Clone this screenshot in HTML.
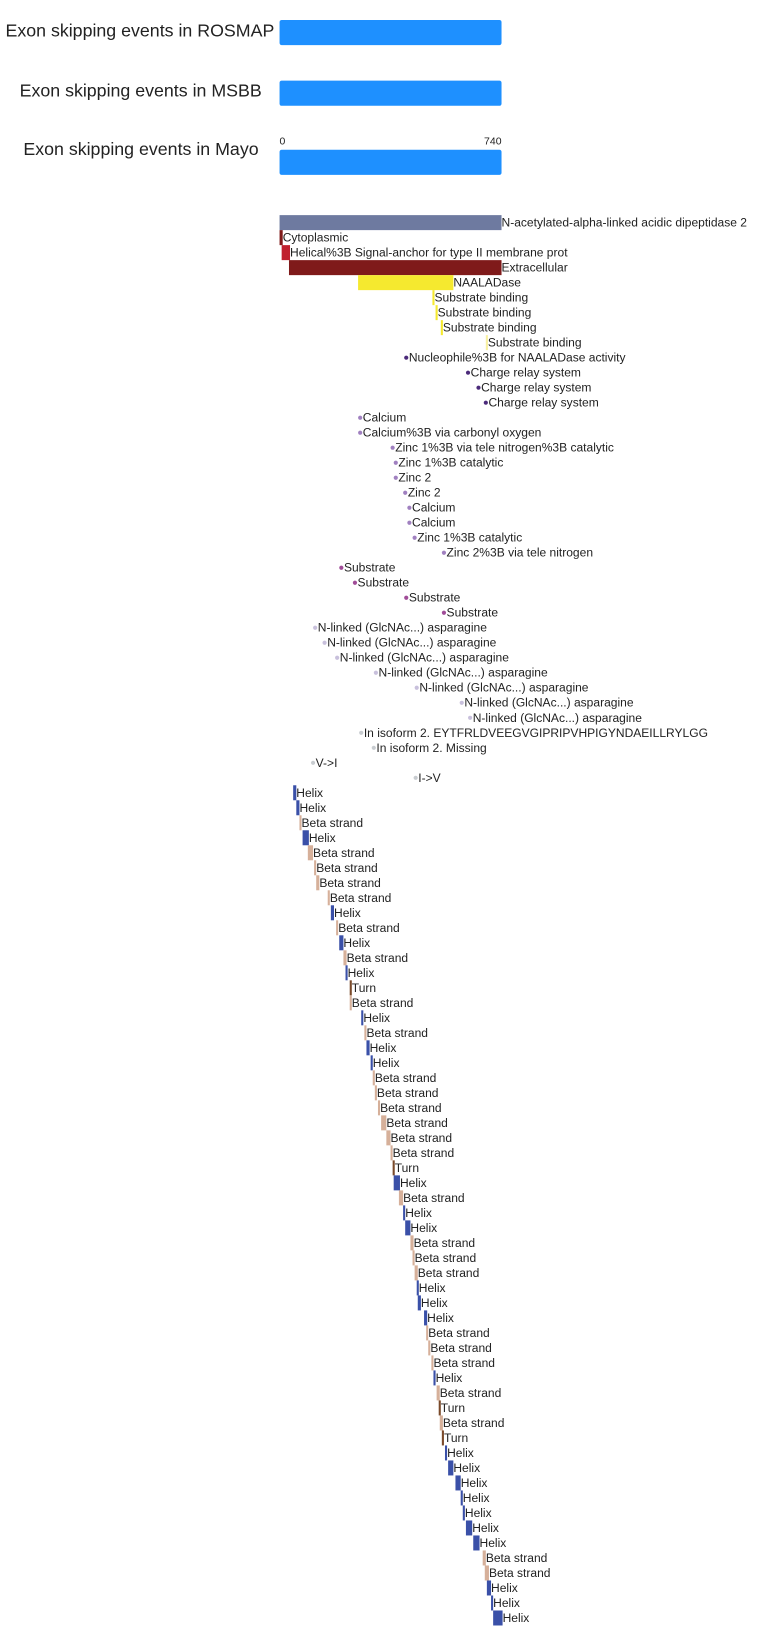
<!DOCTYPE html>
<html><head><meta charset="utf-8"><style>
html,body{margin:0;padding:0;background:#fff;}
svg{display:block;}
text{font-family:"Liberation Sans",Arial,sans-serif;fill:#222;}
</style></head><body>
<svg width="757" height="1645" viewBox="0 0 723 1571" xmlns="http://www.w3.org/2000/svg">
<text x="262" y="35" font-size="17" text-anchor="end">Exon skipping events in ROSMAP</text>
<text x="250" y="92" font-size="17" text-anchor="end">Exon skipping events in MSBB</text>
<text x="247" y="148" font-size="17" text-anchor="end">Exon skipping events in Mayo</text>
<rect x="267" y="19" width="212" height="24" rx="2" fill="#1e90ff"/>
<rect x="267" y="77" width="212" height="24" rx="2" fill="#1e90ff"/>
<rect x="267" y="143" width="212" height="24" rx="2" fill="#1e90ff"/>
<text x="267" y="138" font-size="10">0</text>
<text x="479" y="138" font-size="10" text-anchor="end">740</text>
<g id="rows" font-size="11.5"></g>
</svg>
<script>
var R=[
["b",267,479,"#6e7aa0","N-acetylated-alpha-linked acidic dipeptidase 2"],
["b",267,270,"#7f1a1a","Cytoplasmic"],
["b",269,277,"#c0202e","Helical%3B Signal-anchor for type II membrane prot"],
["b",276,479,"#7f1a1a","Extracellular"],
["b",342,433,"#f5e92f","NAALADase"],
["b",413,415,"#f5e92f","Substrate binding"],
["b",416,418,"#f5e92f","Substrate binding"],
["b",421,423,"#f5e92f","Substrate binding"],
["b",464,466,"#f8f0a0","Substrate binding"],
["d",388,0,"#4b2a7a","Nucleophile%3B for NAALADase activity"],
["d",447,0,"#4b2a7a","Charge relay system"],
["d",457,0,"#4b2a7a","Charge relay system"],
["d",464,0,"#4b2a7a","Charge relay system"],
["d",344,0,"#a080c0","Calcium"],
["d",344,0,"#a080c0","Calcium%3B via carbonyl oxygen"],
["d",375,0,"#a080c0","Zinc 1%3B via tele nitrogen%3B catalytic"],
["d",378,0,"#a080c0","Zinc 1%3B catalytic"],
["d",378,0,"#a080c0","Zinc 2"],
["d",387,0,"#a080c0","Zinc 2"],
["d",391,0,"#a080c0","Calcium"],
["d",391,0,"#a080c0","Calcium"],
["d",396,0,"#a080c0","Zinc 1%3B catalytic"],
["d",424,0,"#a080c0","Zinc 2%3B via tele nitrogen"],
["d",326,0,"#a04c98","Substrate"],
["d",339,0,"#a04c98","Substrate"],
["d",388,0,"#a04c98","Substrate"],
["d",424,0,"#a04c98","Substrate"],
["d",301,0,"#c8c0dc","N-linked (GlcNAc...) asparagine"],
["d",310,0,"#c8c0dc","N-linked (GlcNAc...) asparagine"],
["d",322,0,"#c8c0dc","N-linked (GlcNAc...) asparagine"],
["d",359,0,"#c8c0dc","N-linked (GlcNAc...) asparagine"],
["d",398,0,"#c8c0dc","N-linked (GlcNAc...) asparagine"],
["d",441,0,"#c8c0dc","N-linked (GlcNAc...) asparagine"],
["d",449,0,"#c8c0dc","N-linked (GlcNAc...) asparagine"],
["d",345,0,"#c8ccd0","In isoform 2. EYTFRLDVEEGVGIPRIPVHPIGYNDAEILLRYLGG"],
["d",357,0,"#c8ccd0","In isoform 2. Missing"],
["d",299,0,"#c8ccd0","V->I"],
["d",397,0,"#c8ccd0","I->V"]
];
var H="#3a50a8",B="#d6b09a",T="#7a4a2a";
var S=[[280,283,"H"],[283,286,"H"],[286,288,"B"],[289,295,"H"],[294,299,"B"],[300,302,"B"],[302,305,"B"],[313,315,"B"],[316,319,"H"],[321,323,"B"],[324,328,"H"],[328,331,"B"],[330,332,"H"],[334,336,"T"],[334,336,"B"],[345,347,"H"],[348,350,"B"],[350,353,"H"],[354,356,"H"],[356,358,"B"],[358,360,"B"],[361,363,"B"],[364,369,"B"],[369,373,"B"],[373,375,"B"],[375,377,"T"],[376,382,"H"],[381,385,"B"],[385,387,"H"],[387,392,"H"],[392,395,"B"],[394,396,"B"],[396,399,"B"],[398,400,"H"],[399,402,"H"],[405,408,"H"],[407,409,"B"],[409,411,"B"],[412,414,"B"],[414,416,"H"],[417,420,"B"],[419,421,"T"],[420,423,"B"],[422,424,"T"],[425,427,"H"],[428,433,"H"],[435,440,"H"],[440,442,"H"],[442,444,"H"],[445,451,"H"],[452,458,"H"],[461,464,"B"],[463,467,"B"],[465,469,"H"],[469,471,"H"],[471,480,"H"]];
var N={H:["Helix",H],B:["Beta strand",B],T:["Turn",T]};
S.forEach(function(s){R.push(["b",s[0],s[1],N[s[2]][1],N[s[2]][0]]);});
var g=document.getElementById("rows"),out="";
function esc(s){return s.replace(/&/g,"&amp;").replace(/</g,"&lt;").replace(/>/g,"&gt;");}
R.forEach(function(r,i){
 var top=205.4+i*14.33, ty=top+11;
 if(r[0]=="b"){
  out+='<rect x="'+r[1]+'" y="'+top+'" width="'+(r[2]-r[1])+'" height="14.33" fill="'+r[3]+'"/>';
  out+='<text x="'+r[2]+'" y="'+ty+'">'+esc(r[4])+'</text>';
 } else {
  out+='<circle cx="'+r[1]+'" cy="'+(top+7.2)+'" r="2" fill="'+r[3]+'"/>';
  out+='<text x="'+(r[1]+2.5)+'" y="'+ty+'">'+esc(r[4])+'</text>';
 }
});
g.innerHTML=out;
</script>
</body></html>
